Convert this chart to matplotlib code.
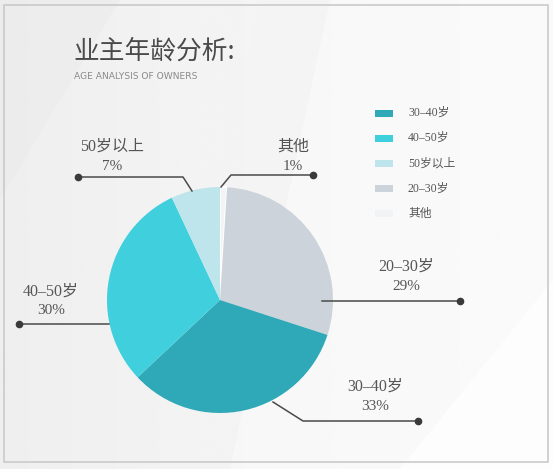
import matplotlib
matplotlib.use("Agg")
import numpy as np
import matplotlib.pyplot as plt
from matplotlib.patches import Polygon, Rectangle

# data
labels = ["其他", "20-30岁", "30-40岁", "40-50岁", "50岁以上"]
shares = [1, 29, 33, 30, 7]
colors = ["#f2f3f4", "#cdd3da", "#2fa9b8", "#40cfdd", "#bee5eb"]
legend_order = ["30-40岁", "40-50岁", "50岁以上", "20-30岁", "其他"]

W, H = 553, 469
CJK = ["Liberation Serif", "Noto Sans CJK SC"]


def fy(y):
    # picture rows -> axes y
    return H - y


fig = plt.figure(figsize=(W / 100, H / 100), dpi=100)
fig.patch.set_facecolor("#efefef")
ax = fig.add_axes([0, 0, 1, 1])
ax.set_xlim(0, W)
ax.set_ylim(0, H)
ax.axis("off")

# soft gray-to-white background
grad = np.linspace(0.935, 0.985, 256)[None, :]
ax.imshow(grad, extent=(0, W, 0, H), cmap="gray", vmin=0, vmax=1,
          aspect="auto", zorder=0)
bg = [
    ([(260, 0), (330, 0), (230, 469), (160, 469)], "#f4f4f4", 0.6),
    ([(330, 0), (553, 0), (553, 469), (230, 469)], "#fafafa", 0.7),
    ([(553, 280), (553, 469), (400, 469)], "#ffffff", 0.8),
    ([(0, 0), (120, 0), (0, 200)], "#ebebeb", 0.5),
]
for pts, c, a in bg:
    ax.add_patch(Polygon([(x, fy(y)) for x, y in pts], closed=True,
                         facecolor=c, edgecolor="none", alpha=a, zorder=0.5))
ax.add_patch(Rectangle((4, fy(462)), 544, 457, facecolor="none",
                       edgecolor="#cacaca", lw=1.2, zorder=1))

# title
ax.text(73, fy(52), "业主年龄分析:", fontsize=18.5, color="#4a4a4a",
        family=["Noto Sans CJK SC", "DejaVu Sans"], weight="light",
        va="center", ha="left")
ax.text(74, fy(76), "AGE ANALYSIS OF OWNERS", fontsize=6.6, color="#8a8a8a",
        family="DejaVu Sans", va="center", ha="left")

# pie
wedges, _ = ax.pie(shares, colors=colors, startangle=90, counterclock=False,
                   center=(220, fy(300)), radius=113, frame=True,
                   wedgeprops=dict(linewidth=0))
wedges[0].set_edgecolor("white")
wedges[0].set_linewidth(1.5)
ax.set_xlim(0, W)
ax.set_ylim(0, H)
ax.axis("off")
for w in wedges:
    w.set_zorder(3)

# leader lines and labels (layout in picture pixels)
leaders = {
    "其他": ([(221, 187), (231, 175), (313, 175)], (293, 147)),
    "20-30岁": ([(322, 301), (460, 301)], (406, 267)),
    "30-40岁": ([(273, 402), (303, 421), (418, 421)], (375, 387)),
    "40-50岁": ([(109, 324), (19, 324)], (51, 292)),
    "50岁以上": ([(192, 191), (183, 177), (78, 177)], (112, 147)),
}
for lab, val in zip(labels, shares):
    pts, (tx, ty) = leaders[lab]
    xs = [p[0] for p in pts]
    ys = [fy(p[1]) for p in pts]
    ax.plot(xs, ys, color="#4a4a4a", lw=1.1, zorder=4)
    ax.plot(xs[-1], ys[-1], "o", color="#3a3a3a", ms=4.5, zorder=5)
    ax.text(tx, fy(ty), lab.replace("-", "–"), fontsize=11.5, color="#555555",
            family=CJK, ha="center", va="center", zorder=5)
    ax.text(tx, fy(ty + 19), f"{val}%", fontsize=11, color="#555555",
            family=CJK, ha="center", va="center", zorder=5)

# legend
for i, lab in enumerate(legend_order):
    c = colors[labels.index(lab)]
    y = 113 + i * 25.2
    ax.add_patch(Rectangle((375, fy(y + 3.5)), 18, 7, facecolor=c,
                           edgecolor="none", zorder=4))
    ax.text(408, fy(y), lab.replace("-", "–"), fontsize=8.5, color="#555555",
            family=CJK, ha="left", va="center", zorder=5)

fig.savefig("out.png", dpi=100)
